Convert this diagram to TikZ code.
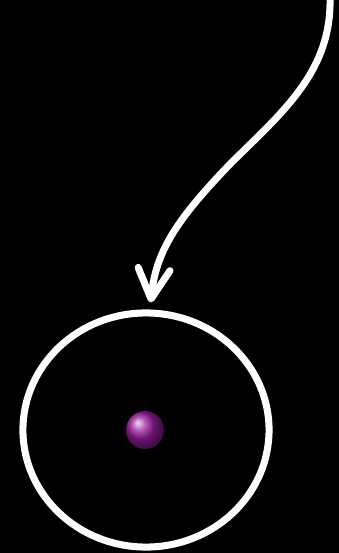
\documentclass[tikz,border=0pt]{standalone}
\usetikzlibrary{arrows.meta, positioning, shapes.geometric, calc}
\definecolor{cbg}{HTML}{000000}
\definecolor{cline}{HTML}{FFFFFF}
\definecolor{cpurple}{HTML}{9A1C9E}
\tikzset{
  every picture/.style={line width=2pt},
  ring/.style={ellipse, draw=cline, line width=2pt, inner sep=0pt, minimum width=2.46cm, minimum height=2.34cm},
  ballnode/.style={circle, inner sep=0pt, minimum size=0.38cm, shading=ball, ball color=#1},
  ballnode/.default=cpurple,
  arrow/.style={-{Straight Barb[length=3mm, width=3.2mm, line cap=round, line join=round]}, draw=cline, line width=2pt, line cap=round},
}
\begin{document}
\begin{tikzpicture}[x=0.01cm, y=-0.01cm]
  \fill[cbg] (0,0) rectangle (339,553);
  \useasboundingbox (0,0) rectangle (339,553);
  \node[ring] (r) at (146,430) {};
  \node[ballnode] (b) at (145,430) {};
  \coordinate (s) at (330,-3);
  \draw[arrow, shorten >=0.07cm] (s) .. controls (332,70) and (285,110) .. (232,162)
        .. controls (178,218) and (156,250) .. ($(r.north)+(4,0)$);
\end{tikzpicture}
\end{document}
